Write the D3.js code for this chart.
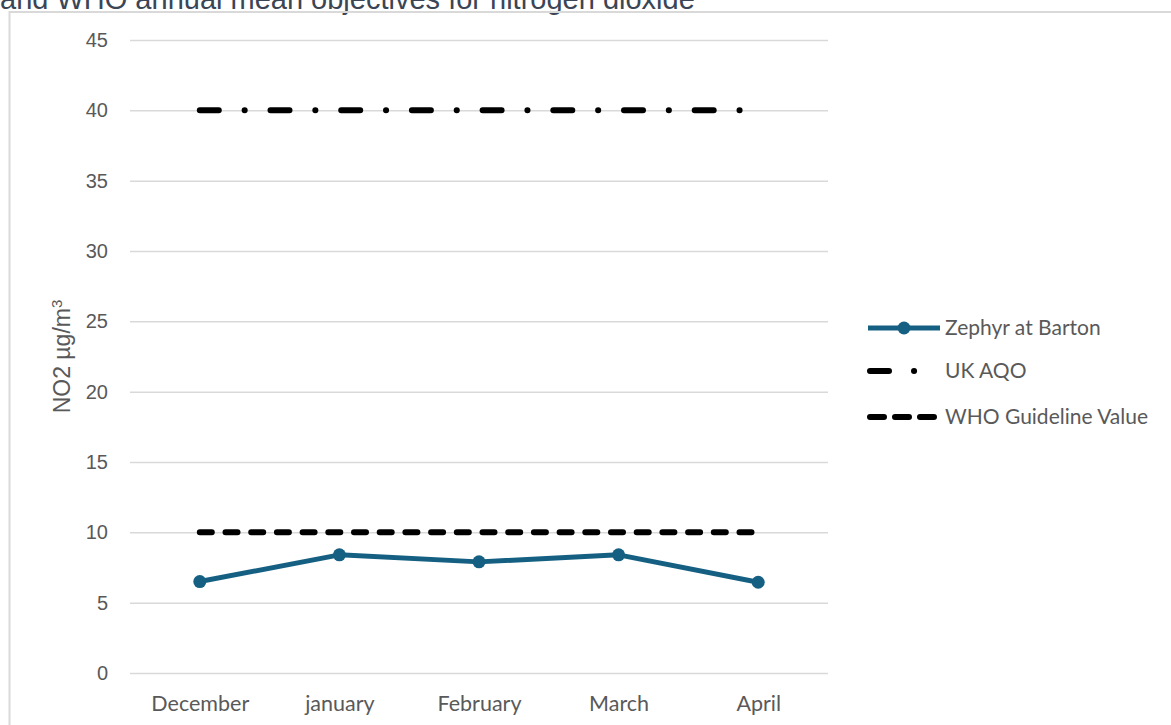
<!DOCTYPE html>
<html>
<head>
<meta charset="utf-8">
<script src="https://cdn.jsdelivr.net/npm/d3@7"></script>
<style>
  body { margin: 0; background: #fff; overflow: hidden; }
  svg { display: block; }
</style>
</head>
<body>
<div id="chart"></div>
<script>
// chart data
var months = ["December", "january", "February", "March", "April"];
var zephyr = [6.5, 8.4, 7.9, 8.4, 6.45];
var ukAqo = [40, 40, 40, 40, 40];
var whoValue = [10, 10, 10, 10, 10];
var yTicks = [0, 5, 10, 15, 20, 25, 30, 35, 40, 45];
var seriesNames = ["Zephyr at Barton", "UK AQO", "WHO Guideline Value"];

var width = 1171, height = 725;
var plot = { left: 130, right: 828, top: 40, bottom: 673 };
var grey = "#595959";
var teal = "#156082";

var svg = d3.select("#chart").append("svg")
	.attr("width", width)
	.attr("height", height);

var x = d3.scalePoint()
	.domain(months)
	.range([plot.left, plot.right])
	.padding(0.5);

var y = d3.scaleLinear()
	.domain([0, 45])
	.range([plot.bottom, plot.top]);

// title (cut off at the top in the original)
svg.append("text")
	.attr("x", 0)
	.attr("y", 9)
	.style("font-family", "'Liberation Sans', Arial, sans-serif")
	.style("font-size", "29px")
	.style("fill", "#3a4656")
	.text("and WHO annual mean objectives for nitrogen dioxide");

// chart frame
svg.append("path")
	.attr("d", "M9.5," + height + "V12H" + width)
	.attr("fill", "none")
	.attr("stroke", "#d9d9d9")
	.attr("stroke-width", 2);

// gridlines + y labels
var yAxis = d3.axisLeft(y)
	.tickValues(yTicks)
	.tickSize(-(plot.right - plot.left))
	.tickPadding(22);

var gy = svg.append("g")
	.attr("transform", "translate(" + plot.left + ",0)")
	.call(yAxis);
gy.select(".domain").remove();
gy.selectAll(".tick line")
	.attr("stroke", "#d9d9d9")
	.attr("stroke-width", 1.5);
gy.selectAll(".tick text")
	.style("font-family", "'Liberation Sans', Arial, sans-serif")
	.style("font-size", "20px")
	.style("fill", grey);

// x labels
var xAxis = d3.axisBottom(x).tickSize(0).tickPadding(0);
var gx = svg.append("g")
	.attr("transform", "translate(0," + (plot.bottom + 23) + ")")
	.call(xAxis);
gx.select(".domain").remove();
gx.selectAll(".tick text")
	.attr("dy", "0.71em")
	.style("font-family", "Lato, 'Open Sans', sans-serif")
	.style("font-size", "21.5px")
	.style("fill", grey);

// y axis title
var yt = svg.append("text")
	.attr("transform", "translate(70," + ((plot.top + plot.bottom) / 2) + ") rotate(-90)")
	.attr("text-anchor", "middle")
	.style("font-family", "'Liberation Sans', Arial, sans-serif")
	.style("font-size", "23px")
	.style("fill", grey);
yt.append("tspan").text("NO2 \u00b5g/m");
yt.append("tspan").attr("dy", "-0.55em").style("font-size", "15px").text("3");

var line = d3.line()
	.x(function (d, i) { return x(months[i]); })
	.y(function (d) { return y(d); });

// UK AQO - long dash dot
svg.append("path")
	.datum(ukAqo)
	.attr("d", line)
	.attr("fill", "none")
	.attr("stroke", "#000")
	.attr("stroke-width", 6)
	.attr("stroke-linecap", "round")
	.attr("stroke-dasharray", "19,25.8,0.1,25.8");

// WHO guideline - dashes
svg.append("path")
	.datum(whoValue)
	.attr("d", line)
	.attr("fill", "none")
	.attr("stroke", "#000")
	.attr("stroke-width", 6)
	.attr("stroke-linecap", "round")
	.attr("stroke-dasharray", "12,13.7");

// Zephyr
svg.append("path")
	.datum(zephyr)
	.attr("d", line)
	.attr("fill", "none")
	.attr("stroke", teal)
	.attr("stroke-width", 5)
	.attr("stroke-linejoin", "round");

svg.selectAll(".marker")
	.data(zephyr)
	.enter().append("circle")
	.attr("class", "marker")
	.attr("cx", function (d, i) { return x(months[i]); })
	.attr("cy", function (d) { return y(d); })
	.attr("r", 6.5)
	.attr("fill", teal);

// legend
var legendY = [328, 371, 417];
var lg = svg.append("g");
var sx0 = 870, sx1 = 938;

lg.append("line")
	.attr("x1", sx0 - 2).attr("x2", sx1 + 2)
	.attr("y1", legendY[0]).attr("y2", legendY[0])
	.attr("stroke", teal).attr("stroke-width", 5);
lg.append("circle")
	.attr("cx", (sx0 + sx1) / 2).attr("cy", legendY[0])
	.attr("r", 6.5).attr("fill", teal);

lg.append("line")
	.attr("x1", sx0).attr("x2", sx1)
	.attr("y1", legendY[1]).attr("y2", legendY[1])
	.attr("stroke", "#000").attr("stroke-width", 6)
	.attr("stroke-linecap", "round")
	.attr("stroke-dasharray", "19,25,0.1,100");

lg.append("line")
	.attr("x1", sx0).attr("x2", sx1)
	.attr("y1", legendY[2]).attr("y2", legendY[2])
	.attr("stroke", "#000").attr("stroke-width", 6)
	.attr("stroke-linecap", "round")
	.attr("stroke-dasharray", "14,11");

lg.selectAll(".legend-label")
	.data(seriesNames)
	.enter().append("text")
	.attr("class", "legend-label")
	.attr("x", 945)
	.attr("y", function (d, i) { return legendY[i]; })
	.attr("dy", "0.35em")
	.style("font-family", "Lato, 'Open Sans', sans-serif")
	.style("font-size", "21px")
	.style("fill", grey)
	.text(function (d) { return d; });
</script>
</body>
</html>
